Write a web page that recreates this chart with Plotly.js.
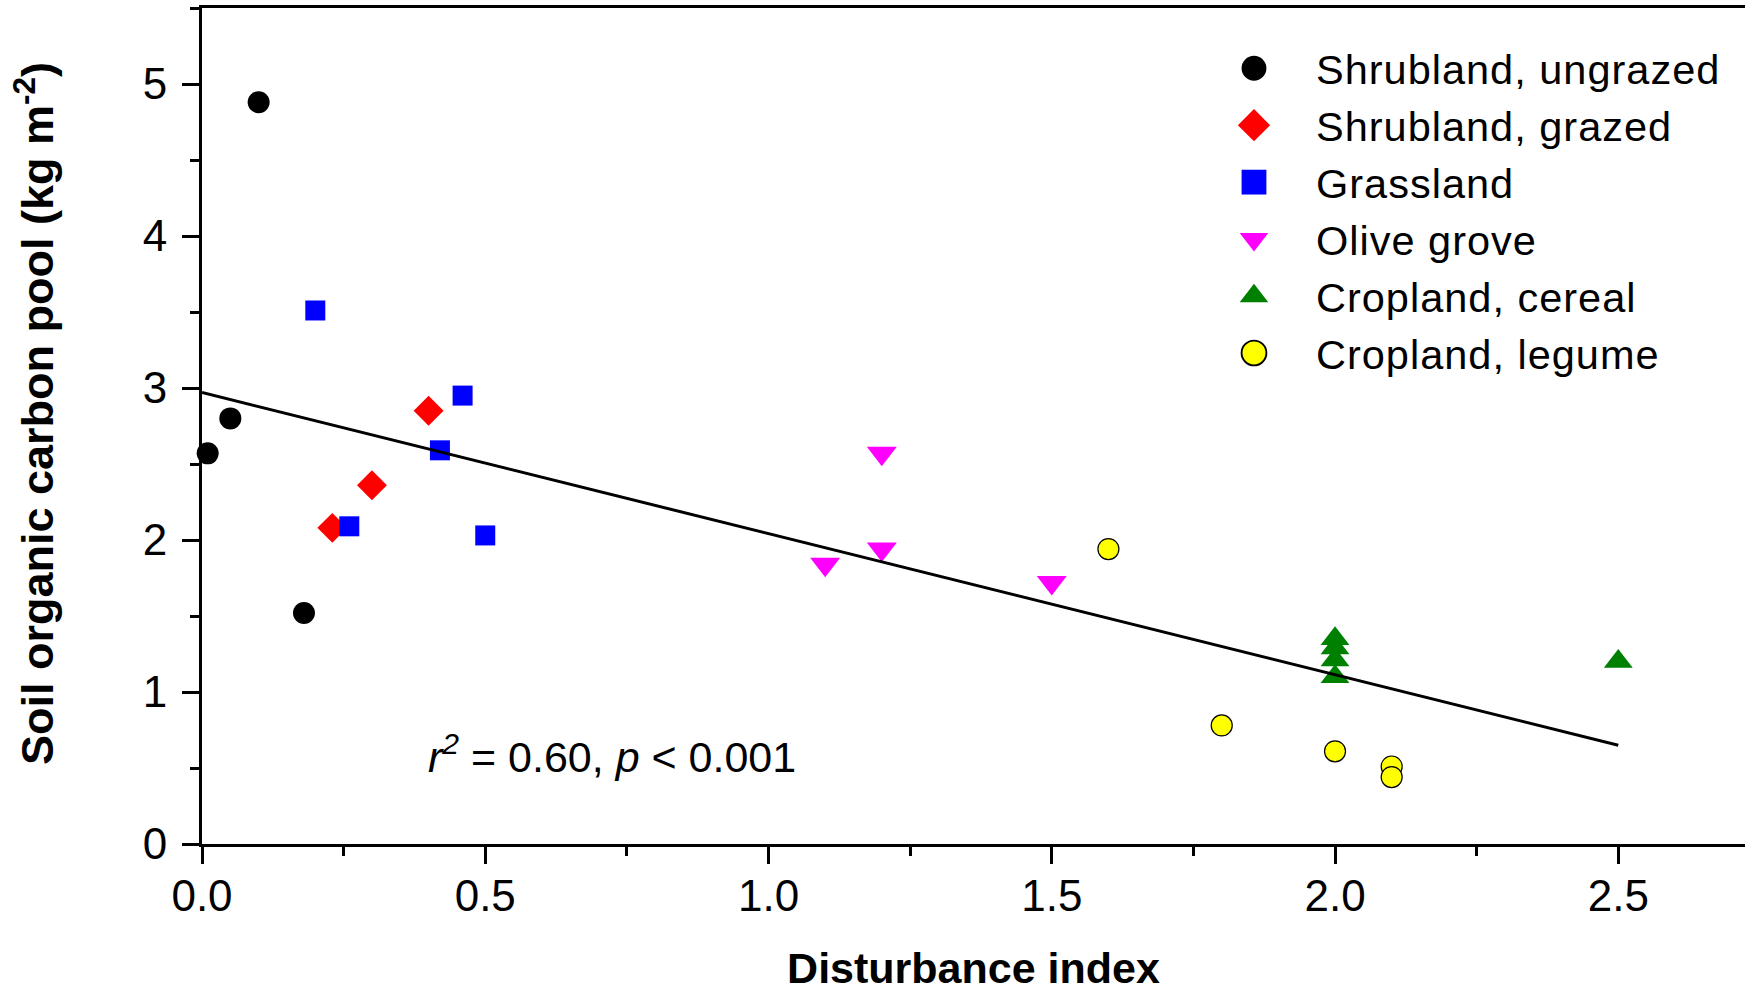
<!DOCTYPE html>
<html>
<head>
<meta charset="utf-8">
<script src="https://cdn.plot.ly/plotly-3.0.1.min.js"></script>
<style>
  html, body { margin: 0; padding: 0; background: #fff; overflow: hidden; }
  #chart { width: 1745px; height: 992px; }
</style>
</head>
<body>
<div id="chart"></div>
<script>
// ---- data ----
const seriesNames = ["Shrubland, ungrazed", "Shrubland, grazed", "Grassland", "Olive grove", "Cropland, cereal", "Cropland, legume"];

const shrubUngrazedX = [0.01, 0.05, 0.10, 0.18];
const shrubUngrazedY = [2.57, 2.80, 4.88, 1.52];

const shrubGrazedX = [0.23, 0.30, 0.40];
const shrubGrazedY = [2.08, 2.36, 2.85];

const grasslandX = [0.20, 0.26, 0.42, 0.46, 0.50];
const grasslandY = [3.51, 2.09, 2.59, 2.95, 2.03];

const oliveX = [1.10, 1.20, 1.20, 1.50];
const oliveY = [1.84, 2.57, 1.94, 1.72];

const cerealX = [2.0, 2.0, 2.0, 2.0, 2.5];
const cerealY = [1.35, 1.29, 1.21, 1.10, 1.20];

const legumeX = [1.60, 1.80, 2.00, 2.10, 2.10];
const legumeY = [1.94, 0.78, 0.61, 0.51, 0.44];

// regression line end points
const fitX = [0, 2.5];
const fitY = [2.97, 0.65];

const statsText = "<i>r</i><sup><i>2</i></sup> = 0.60, <i>p</i> &lt; 0.001";
const xTitle = "Disturbance index";
const yTitle = "&nbsp;&nbsp;Soil organic carbon pool (kg m<sup>-2</sup>)";

// ---- styles ----
const FONT = "Liberation Sans, Arial, Helvetica, sans-serif";

function pts(name, x, y, symbol, color, size, outline) {
  return {
    type: "scatter", mode: "markers", name: name, x: x, y: y,
    marker: {
      symbol: symbol, color: color, size: size,
      line: { width: outline ? 1.2 : 0, color: "#000" }
    },
    cliponaxis: false
  };
}

const traces = [
  pts(seriesNames[0], shrubUngrazedX, shrubUngrazedY, "circle", "#000000", 22, false),
  pts(seriesNames[1], shrubGrazedX, shrubGrazedY, "diamond", "#FF0000", 23, false),
  pts(seriesNames[2], grasslandX, grasslandY, "square", "#0000FF", 20, false),
  pts(seriesNames[3], oliveX, oliveY, "triangle-down", "#FF00FF", 26, false),
  pts(seriesNames[4], cerealX, cerealY, "triangle-up", "#008000", 25, false),
  pts(seriesNames[5], legumeX, legumeY, "circle", "#FFFF00", 21, true),
  {
    type: "scatter", mode: "lines", x: fitX, y: fitY, showlegend: false,
    line: { color: "#000", width: 3 }, hoverinfo: "skip"
  }
];

const layout = {
  width: 1745, height: 992,
  margin: { l: 202, r: 0, t: 8, b: 148 },
  paper_bgcolor: "#fff", plot_bgcolor: "#fff",
  font: { family: FONT, color: "#000", size: 43 },
  showlegend: true,
  legend: {
    x: 0.6416, xanchor: "left", y: 0.968, yanchor: "top",
    font: { family: FONT, size: 41.5, color: "#000" },
    bgcolor: "rgba(0,0,0,0)", borderwidth: 0,
    itemwidth: 114, tracegroupgap: 0
  },
  xaxis: {
    range: [0, 2.7237], autorange: false,
    tick0: 0, dtick: 0.5, tickformat: ".1f",
    ticks: "outside", ticklen: 17, tickwidth: 3, tickcolor: "#000",
    minor: { tick0: 0, dtick: 0.25, ticks: "outside", ticklen: 9, tickwidth: 3, tickcolor: "#000", showgrid: false },
    showline: true, linewidth: 3, linecolor: "#000", mirror: true,
    showgrid: false, zeroline: false,
    tickfont: { family: FONT, size: 44, color: "#000" },
    ticklabelstandoff: -6,
    title: { text: xTitle, font: { family: FONT, size: 43, color: "#000", weight: "bold" }, standoff: 85 }
  },
  yaxis: {
    range: [0, 5.5], autorange: false,
    tick0: 0, dtick: 1,
    ticks: "outside", ticklen: 17, tickwidth: 3, tickcolor: "#000",
    minor: { tick0: 0, dtick: 0.5, ticks: "outside", ticklen: 9, tickwidth: 3, tickcolor: "#000", showgrid: false },
    showline: true, linewidth: 3, linecolor: "#000", mirror: false,
    showgrid: false, zeroline: false,
    tickfont: { family: FONT, size: 44, color: "#000" },
    ticklabelstandoff: 6,
    title: { text: yTitle, font: { family: FONT, size: 45, color: "#000", weight: "bold" }, standoff: 75 }
  },
  annotations: [{
    text: statsText, xref: "x", yref: "y", x: 0.395, y: 0.59,
    xanchor: "left", yanchor: "middle", showarrow: false,
    font: { family: FONT, size: 43, color: "#000" }
  }]
};

Plotly.newPlot("chart", traces, layout, { staticPlot: true, displayModeBar: false }).then(function (gd) {
  // enlarge the legend symbols to the size used in the reference key
  gd.querySelectorAll(".legend .legendpoints path.scatterpts").forEach(function (p) {
    const t = p.getAttribute("transform") || "";
    p.setAttribute("transform", t + " scale(1.55)");
  });
  // slightly wider legend lettering, as in the reference key
  gd.querySelectorAll(".legend .legendtext").forEach(function (t) {
    t.style.letterSpacing = "1px";
  });
  gd.querySelectorAll(".legend [clip-path]").forEach(function (e) {
    e.removeAttribute("clip-path");
  });
});
</script>
</body>
</html>
